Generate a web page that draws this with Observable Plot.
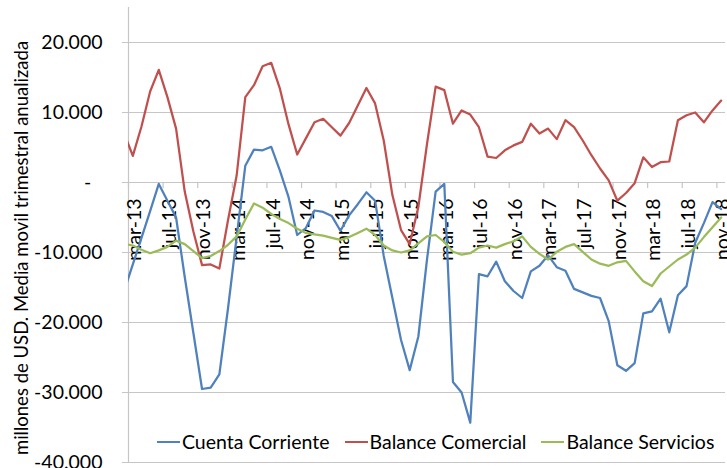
<!DOCTYPE html>
<html><head><meta charset="utf-8">
<script src="https://cdn.jsdelivr.net/npm/d3@7"></script>
<script src="https://cdn.jsdelivr.net/npm/@observablehq/plot@0.6"></script>
<style>
body{margin:0;background:#fff;}
#wrap{position:relative;width:727px;height:468px;font-family:Lato,sans-serif;}
#legend{position:absolute;left:157px;top:429px;display:flex;align-items:center;font-size:19.5px;line-height:26px;color:#000;white-space:nowrap;}
.item{display:flex;align-items:center;margin-right:15px;}
.sw{display:inline-block;width:23px;height:0;border-top:2.25px solid;margin-right:2px;}
</style></head>
<body><div id="wrap"></div>
<script>
// Monthly categories (first one, feb-13, lies just left of the plot frame and is clipped)
const months = [
 "feb-13","mar-13","abr-13","may-13","jun-13","jul-13","ago-13","sep-13","oct-13","nov-13","dic-13",
 "ene-14","feb-14","mar-14","abr-14","may-14","jun-14","jul-14","ago-14","sep-14","oct-14","nov-14","dic-14",
 "ene-15","feb-15","mar-15","abr-15","may-15","jun-15","jul-15","ago-15","sep-15","oct-15","nov-15","dic-15",
 "ene-16","feb-16","mar-16","abr-16","may-16","jun-16","jul-16","ago-16","sep-16","oct-16","nov-16","dic-16",
 "ene-17","feb-17","mar-17","abr-17","may-17","jun-17","jul-17","ago-17","sep-17","oct-17","nov-17","dic-17",
 "ene-18","feb-18","mar-18","abr-18","may-18","jun-18","jul-18","ago-18","sep-18","oct-18","nov-18"
];
const cuentaCorriente = [
 -15500,
 -11700,-7900,-4100,-200,-2600,-5000,-13500,-21500,-29500,-29300,
 -27400,-18000,-7800,2400,4700,4600,5100,1700,-2100,-7500,
 -6500,-4000,-4200,-4800,-6900,-4700,-3100,-1400,-2600,-10500,
 -16500,-22500,-26800,-22000,-11000,-1300,-200,-28500,-30000,-34300,
 -13100,-13400,-11300,-14100,-15500,-16500,-12700,-11900,-10400,-12100,
 -12600,-15200,-15700,-16200,-16500,-19800,-26100,-26900,-25800,-18700,
 -18400,-16600,-21400,-16100,-14800,-8600,-5800,-2800,-3800
];
const balanceComercial = [
 7000,
 3800,8000,13000,16100,12200,7700,-1300,-7000,-11800,-11700,
 -12300,-5400,1000,12200,13900,16600,17100,13400,8300,4000,
 6300,8600,9100,7900,6700,8500,11000,13500,11300,6000,
 -1800,-6800,-8800,-3500,5500,13700,13200,8400,10300,9700,
 7900,3700,3500,4600,5300,5800,8400,7000,7700,6200,
 8900,7900,6000,3900,2000,300,-2600,-1500,-100,3600,
 2200,2900,3000,8900,9600,10000,8600,10300,11700
];
const balanceServicios = [
 -8800,
 -9000,-9600,-10100,-9700,-9200,-8300,-8800,-9800,-10800,-10500,
 -9800,-8900,-7700,-5300,-3000,-3600,-4500,-5200,-5800,-6600,
 -7200,-7400,-7600,-7900,-8200,-7800,-7200,-6600,-7500,-9000,
 -9700,-10000,-9700,-8700,-7700,-7500,-8500,-9900,-10300,-10100,
 -9300,-9000,-9300,-8800,-8400,-7700,-9200,-10200,-11000,-9900,
 -9200,-8800,-9900,-11000,-11600,-11900,-11400,-11200,-12700,-14100,
 -14800,-13000,-12000,-11000,-10300,-9300,-7800,-6400,-5000
];
const seriesNames = ["Cuenta Corriente","Balance Comercial","Balance Servicios"];
const seriesColors = ["#4F81BD","#C0504D","#9BBB59"];
const xTickLabels = ["mar-13","jul-13","nov-13","mar-14","jul-14","nov-14","mar-15","jul-15","nov-15",
 "mar-16","jul-16","nov-16","mar-17","jul-17","nov-17","mar-18","jul-18","nov-18"];
const yTicks = [-40000,-30000,-20000,-10000,0,10000,20000];
const yTitle = "millones de USD. Media movil trimestral anualizada";

const seriesValues = [cuentaCorriente, balanceComercial, balanceServicios];
const pos = m => months.indexOf(m) - 1; // category position, mar-13 = 0
const rows = seriesNames.flatMap((s, j) => months.map((m, k) => ({x: pos(m), value: seriesValues[j][k], serie: s})));
const xLabels = xTickLabels.map(l => ({x: pos(l), label: l}));
const fmtY = v => v === 0 ? "-\u2007" : d3.format(",")(v).replace(/,/g, ".").replace("\u2212", "-");
const grid = "#c6c6c6";
const fs = 19.5;

const chart = Plot.plot({
  width: 727, height: 468,
  marginLeft: 128, marginRight: 2, marginTop: 7, marginBottom: 6,
  x: {domain: [-0.5, 68.5], axis: null},
  y: {domain: [-40000, 25000], axis: null},
  color: {domain: seriesNames, range: seriesColors},
  style: {fontFamily: "Lato, sans-serif", color: "#000", background: "#fff", overflow: "visible"},
  marks: [
    Plot.ruleY(yTicks, {stroke: grid, strokeWidth: 1.2, insetLeft: -6}),
    Plot.ruleX([-0.5], {stroke: grid, strokeWidth: 1.2}),
    Plot.ruleX(xLabels, {x: d => d.x - 0.5, y1: 0, y2: 0, insetBottom: -6, stroke: grid, strokeWidth: 1.2}),
    Plot.text(xLabels, {x: "x", y: () => 0, text: "label", rotate: -90, textAnchor: "end", dy: 16, dx: 2, fontSize: fs, fill: "#000"}),
    Plot.line(rows, {x: "x", y: "value", z: "serie", stroke: "serie", strokeWidth: 2.25, strokeLinejoin: "round", clip: true}),
    Plot.text(yTicks, {frameAnchor: "left", y: d => d, text: fmtY, textAnchor: "end", dx: -26, fontSize: fs, fill: "#000"}),
    Plot.text([yTitle], {frameAnchor: "left", textAnchor: "middle", rotate: -90, dx: -106, dy: 13, fontSize: 18.5, fill: "#000"})
  ]
});
const wrap = document.getElementById("wrap");
wrap.appendChild(chart);
const legend = document.createElement("div");
legend.id = "legend";
seriesNames.forEach((s, j) => {
  const it = document.createElement("div");
  it.className = "item";
  const sw = document.createElement("span");
  sw.className = "sw";
  sw.style.borderTopColor = seriesColors[j];
  it.appendChild(sw);
  it.appendChild(document.createTextNode(s));
  legend.appendChild(it);
});
wrap.appendChild(legend);
</script>
</body></html>
